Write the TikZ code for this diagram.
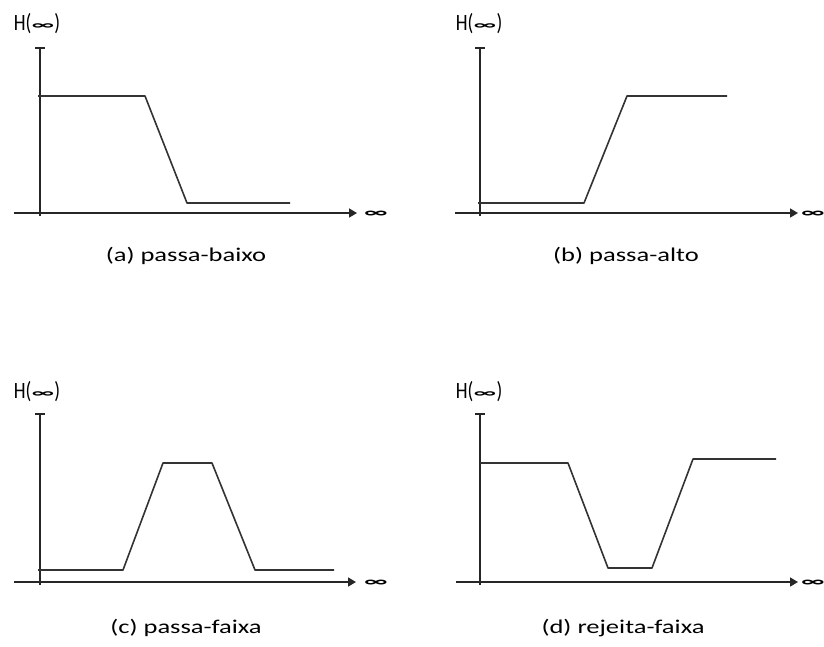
\documentclass[tikz,border=0pt]{standalone}
\usepackage{fontspec}
\setmainfont{Carlito}
\usetikzlibrary{arrows.meta}
\newcommand{\infH}{\hspace{0.5pt}\raisebox{1pt}{\bfseries\scalebox{1.4}[0.55]{∞}}\hspace{0.5pt}}
\begin{document}
\begin{tikzpicture}[x=1pt,y=-1pt,
  axis/.style={line width=1.6pt,draw=black!85},
  curve/.style={line width=1.6pt,draw=black!80,line join=round},
  lbl/.style={font=\fontsize{18}{20}\selectfont,inner sep=0pt,xscale=1.05,yscale=1.3},
  captxt/.style={font=\fontsize{19.5}{21}\selectfont,inner sep=0pt,xscale=1.36},
  inf/.style={font=\fontsize{19}{21}\selectfont\bfseries,inner sep=0pt,xscale=1.45,yscale=0.75},
  tip/.style={-{Triangle[length=8pt,width=9pt]}}]
\useasboundingbox (0,0) rectangle (824,646);
% panel a
\node[lbl] (ha) at (37,24) {H(\infH)};
\coordinate (ya0) at (40,216);
\coordinate (ya1) at (40,48);
\coordinate (tl1) at (35,48);
\coordinate (tr1) at (45,48);
\coordinate (xa0) at (14,213);
\coordinate (xa1) at (357,213);
\draw[axis] (ya0) -- (ya1);
\draw[axis] (tl1) -- (tr1);
\draw[axis,tip] (xa0) -- (xa1);
\node[inf] (ia) at (376,214) {∞};
\draw[curve] (38,96) -- (145,96) -- (187,203) -- (290,203);
\node[captxt] (ca) at (186,256) {(a) passa-baixo};
% panel b
\node[lbl] (hb) at (479,24) {H(\infH)};
\coordinate (yb0) at (480,216);
\coordinate (yb1) at (480,48);
\coordinate (tl2) at (475,48);
\coordinate (tr2) at (485,48);
\coordinate (xb0) at (455,213);
\coordinate (xb1) at (798,213);
\draw[axis] (yb0) -- (yb1);
\draw[axis] (tl2) -- (tr2);
\draw[axis,tip] (xb0) -- (xb1);
\node[inf] (ib) at (813,214) {∞};
\draw[curve] (478,203) -- (584,203) -- (627,96) -- (727,96);
\node[captxt] (cb) at (626,256) {(b) passa-alto};
% panel c
\node[lbl] (hc) at (37,392) {H(\infH)};
\coordinate (yc0) at (40,585);
\coordinate (yc1) at (40,414);
\coordinate (tl3) at (35,414);
\coordinate (tr3) at (45,414);
\coordinate (xc0) at (14,582);
\coordinate (xc1) at (356,582);
\draw[axis] (yc0) -- (yc1);
\draw[axis] (tl3) -- (tr3);
\draw[axis,tip] (xc0) -- (xc1);
\node[inf] (ic) at (376,583) {∞};
\draw[curve] (38,570) -- (123,570) -- (163,463) -- (212,463) -- (255,570) -- (334,570);
\node[captxt] (cc) at (186,628) {(c) passa-faixa};
% panel d
\node[lbl] (hd) at (479,392) {H(\infH)};
\coordinate (yd0) at (480,585);
\coordinate (yd1) at (480,414);
\coordinate (tl4) at (475,414);
\coordinate (tr4) at (485,414);
\coordinate (xd0) at (456,582);
\coordinate (xd1) at (798,582);
\draw[axis] (yd0) -- (yd1);
\draw[axis] (tl4) -- (tr4);
\draw[axis,tip] (xd0) -- (xd1);
\node[inf] (id) at (813,583) {∞};
\draw[curve] (480,463) -- (568,463) -- (608,568) -- (652,568) -- (693,459) -- (776,459);
\node[captxt] (cd) at (623,628) {(d) rejeita-faixa};
\end{tikzpicture}
\end{document}
